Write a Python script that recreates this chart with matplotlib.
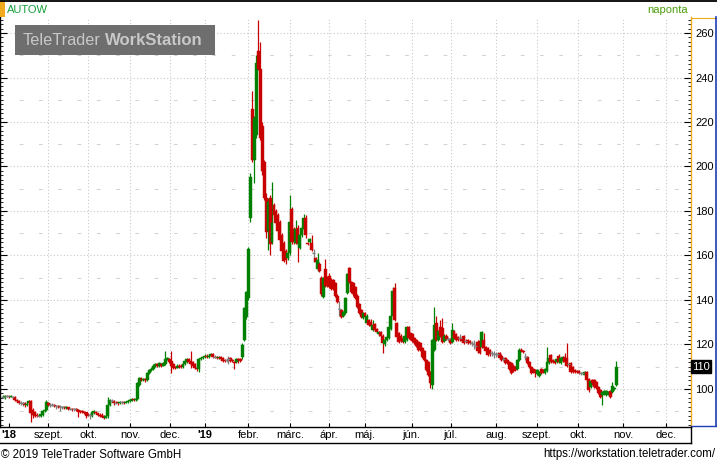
import numpy as np
import matplotlib
matplotlib.use('Agg')
import matplotlib.pyplot as plt
from matplotlib.lines import Line2D
from matplotlib.patches import Rectangle
from matplotlib.ticker import MultipleLocator

plt.rcParams['font.family'] = ['Liberation Sans', 'DejaVu Sans']

# daily OHLC, AUTOW, one line = 10 trading days
opens = [
    96.5, 96.0, 96.8, 96.8, 96.5, 96.6, 96.5, 95.2, 94.8, 93.8,
    93.5, 93.5, 93.0, 93.5, 94.5, 90.5, 89.5, 88.5, 88.0, 88.0,
    88.5, 90.0, 90.5, 93.5, 93.0, 93.0, 93.0, 92.5, 92.5, 92.0,
    92.0, 92.0, 91.5, 91.8, 91.0, 91.2, 91.0, 91.0, 90.5, 90.0,
    90.0, 89.5, 89.5, 88.5, 88.5, 88.0, 89.0, 89.5, 89.0, 88.5,
    88.5, 88.0, 87.0, 88.0, 93.0, 94.5, 94.5, 93.8, 94.0, 93.5,
    94.0, 94.0, 93.8, 94.0, 94.5, 94.8, 95.3, 95.0, 95.5, 102.0,
    104.5, 104.0, 104.5, 104.0, 107.0, 108.5, 109.0, 110.5, 111.0, 110.5,
    111.0, 110.5, 111.0, 113.5, 113.5, 112.5, 111.0, 110.0, 109.5, 110.5,
    110.5, 110.0, 111.0, 112.0, 113.5, 112.5, 112.0, 111.0, 109.5, 109.0,
    113.5, 114.0, 114.5, 115.0, 114.5, 115.0, 115.5, 114.5, 114.5, 114.0,
    114.5, 114.0, 113.0, 113.0, 113.5, 114.0, 113.0, 112.0, 112.0, 113.5,
    113.5, 114.4, 122.0, 132.4, 141.0, 177.0, 226.0, 203.0, 214.0, 252.0,
    244.0, 218.0, 202.0, 186.0, 171.0, 186.0, 166.0, 182.5, 180.0, 178.0,
    175.0, 169.0, 165.5, 162.0, 159.0, 161.0, 181.0, 172.0, 165.5, 172.5,
    163.5, 169.0, 172.0, 177.0, 165.5, 166.0, 165.5, 161.0, 159.0, 154.0,
    156.0, 150.0, 141.5, 154.0, 150.0, 151.0, 149.0, 149.0, 147.5, 142.0,
    136.0, 135.5, 133.0, 134.0, 143.0, 154.5, 148.0, 147.5, 146.0, 142.0,
    138.0, 135.5, 132.0, 134.0, 129.7, 131.0, 130.0, 126.5, 129.0, 127.0,
    124.5, 125.5, 124.0, 120.0, 122.0, 123.0, 127.0, 133.0, 145.4, 129.7,
    125.0, 124.0, 123.0, 121.0, 122.0, 128.0, 125.0, 124.5, 123.0, 122.0,
    121.0, 120.7, 118.5, 117.0, 113.0, 112.0, 107.6, 102.0, 117.5, 129.7,
    122.0, 128.0, 127.4, 121.5, 124.0, 122.5, 122.5, 121.0, 126.0, 124.5,
    123.5, 123.0, 123.0, 123.8, 121.5, 122.0, 121.5, 120.5, 120.0, 119.5,
    121.0, 121.5, 119.0, 122.0, 119.0, 118.4, 117.5, 116.0, 115.5, 115.5,
    115.5, 116.0, 115.0, 113.5, 114.0, 113.0, 112.0, 111.7, 110.5, 110.0,
    109.0, 113.0, 117.5, 117.0, 114.5, 114.4, 112.0, 110.0, 109.0, 108.5,
    106.7, 106.0, 109.0, 108.5, 107.0, 108.0, 111.7, 115.3, 113.0, 112.5,
    112.0, 115.0, 111.7, 112.5, 114.4, 114.0, 111.0, 111.7, 110.0, 108.5,
    108.0, 108.0, 107.0, 107.2, 106.3, 107.5, 104.5, 101.0, 104.0, 104.0,
    103.0, 101.0, 99.5, 97.5, 98.0, 97.5, 98.0, 99.0, 98.5, 100.0, 101.8,
]
highs = [
    97.2, 97.5, 97.2, 97.0, 97.2, 97.0, 96.8, 95.6, 95.0, 94.5,
    94.2, 94.0, 94.0, 95.0, 95.0, 91.5, 90.0, 89.0, 88.8, 89.2,
    90.5, 91.0, 95.0, 94.0, 93.8, 93.6, 93.4, 93.0, 93.0, 92.6,
    92.5, 92.4, 92.2, 92.0, 91.6, 91.5, 91.4, 91.3, 90.8, 90.4,
    90.5, 90.0, 89.8, 89.0, 89.0, 89.8, 90.5, 90.0, 89.4, 89.0,
    89.0, 88.4, 88.5, 96.5, 95.5, 95.5, 95.0, 94.4, 94.3, 94.6,
    94.5, 94.4, 94.5, 94.8, 95.4, 96.0, 95.8, 96.0, 103.0, 105.5,
    105.5, 105.0, 105.0, 107.5, 109.0, 110.0, 111.0, 111.8, 111.5, 112.0,
    111.6, 112.0, 117.0, 114.5, 114.0, 117.0, 111.5, 110.5, 111.0, 111.0,
    111.2, 111.5, 113.0, 114.0, 114.0, 117.0, 112.5, 111.5, 110.0, 114.0,
    114.5, 115.0, 115.8, 115.5, 115.5, 116.0, 116.0, 115.2, 115.0, 115.0,
    115.0, 114.4, 113.6, 113.8, 115.0, 114.5, 113.5, 112.5, 114.0, 114.0,
    114.0, 120.5, 137.0, 144.0, 164.0, 197.0, 234.0, 222.5, 250.0, 266.0,
    256.0, 220.0, 203.0, 188.0, 186.0, 187.0, 193.0, 183.5, 181.0, 179.0,
    176.0, 170.0, 166.5, 163.0, 162.0, 187.0, 182.0, 173.0, 176.0, 173.5,
    170.0, 173.5, 178.5, 178.0, 166.2, 168.0, 169.0, 163.0, 159.5, 161.0,
    157.0, 151.0, 150.5, 158.5, 151.0, 152.0, 150.0, 149.5, 148.0, 142.5,
    139.5, 136.0, 135.0, 141.5, 152.0, 155.0, 148.5, 148.0, 146.5, 142.5,
    138.5, 136.0, 134.5, 134.5, 133.5, 131.5, 131.5, 131.0, 129.5, 127.5,
    126.0, 126.0, 124.5, 122.5, 124.0, 128.5, 133.5, 146.0, 147.6, 130.2,
    125.5, 124.5, 123.5, 124.5, 128.5, 128.5, 125.5, 125.0, 123.5, 122.5,
    121.5, 121.2, 119.0, 117.5, 113.5, 112.5, 108.0, 122.5, 137.0, 133.0,
    126.5, 131.0, 132.0, 124.5, 124.5, 123.5, 123.0, 129.7, 126.5, 125.0,
    124.0, 124.5, 123.5, 124.3, 122.5, 122.5, 122.0, 121.5, 122.0, 120.5,
    122.0, 122.0, 126.0, 125.0, 119.5, 118.9, 118.0, 117.0, 117.0, 116.5,
    116.5, 116.5, 115.5, 114.5, 114.5, 113.5, 112.5, 112.2, 111.0, 110.5,
    113.5, 118.4, 118.2, 117.5, 116.0, 114.9, 112.5, 110.5, 109.5, 109.0,
    109.0, 108.0, 109.5, 109.0, 109.5, 119.0, 114.5, 115.8, 113.5, 113.0,
    114.0, 115.5, 114.5, 115.0, 116.0, 120.7, 111.8, 112.2, 110.5, 109.0,
    108.5, 108.5, 107.8, 107.8, 108.0, 108.0, 105.0, 104.0, 104.5, 104.5,
    103.5, 101.5, 100.0, 99.0, 99.5, 99.5, 99.0, 99.5, 103.0, 101.0, 112.6,
]
lows = [
    96.0, 95.5, 96.2, 96.0, 96.2, 96.0, 94.8, 94.2, 93.2, 93.0,
    92.5, 92.0, 92.5, 93.2, 85.0, 87.0, 87.5, 87.2, 87.5, 87.6,
    88.0, 89.5, 90.0, 92.5, 92.0, 92.4, 92.0, 91.0, 91.6, 90.0,
    91.2, 91.0, 91.0, 90.6, 90.4, 90.2, 90.2, 90.0, 87.5, 89.0,
    89.0, 88.6, 87.0, 87.8, 86.5, 87.6, 88.8, 88.6, 88.0, 87.6,
    87.2, 86.5, 86.8, 87.0, 92.5, 94.0, 93.0, 93.2, 93.0, 93.2,
    93.4, 93.2, 93.5, 93.6, 94.2, 94.5, 94.6, 94.8, 95.2, 101.5,
    103.5, 103.6, 103.2, 103.8, 106.5, 108.0, 108.6, 110.0, 109.8, 110.0,
    110.0, 110.2, 110.8, 113.0, 111.5, 107.0, 109.0, 109.0, 109.2, 109.5,
    109.5, 109.6, 110.6, 111.8, 111.5, 109.5, 110.0, 109.0, 108.0, 107.5,
    113.0, 113.6, 114.0, 114.0, 114.0, 114.6, 114.0, 113.8, 113.5, 113.6,
    113.0, 112.0, 112.0, 112.2, 111.0, 112.0, 112.0, 109.0, 111.6, 111.5,
    112.0, 113.5, 121.5, 131.5, 140.0, 175.0, 202.0, 192.5, 213.0, 243.5,
    212.0, 196.0, 185.0, 168.0, 162.5, 160.0, 165.0, 177.0, 173.5, 170.0,
    166.0, 161.0, 157.0, 156.0, 158.0, 160.0, 165.0, 165.0, 165.0, 157.0,
    163.0, 168.5, 171.5, 168.0, 164.8, 165.5, 162.0, 157.0, 156.5, 153.0,
    152.5, 142.0, 141.0, 146.0, 146.0, 145.5, 144.5, 144.5, 141.5, 138.5,
    133.0, 132.0, 132.5, 133.5, 142.5, 147.5, 143.0, 142.0, 140.5, 136.5,
    133.5, 132.0, 131.5, 132.0, 129.2, 128.3, 128.0, 126.0, 126.0, 125.0,
    124.0, 123.5, 116.0, 119.5, 121.5, 122.5, 126.5, 132.5, 130.5, 123.0,
    120.5, 121.0, 120.5, 120.5, 121.5, 122.5, 122.0, 121.0, 120.0, 119.0,
    117.0, 117.0, 114.0, 112.5, 108.0, 105.8, 100.5, 100.0, 117.0, 121.5,
    121.5, 123.5, 120.5, 121.0, 122.0, 121.5, 120.2, 120.5, 122.5, 121.5,
    121.5, 121.5, 121.0, 120.2, 120.5, 120.2, 120.0, 119.5, 118.0, 118.5,
    116.0, 115.5, 118.5, 118.0, 116.5, 115.0, 115.0, 115.0, 114.0, 114.5,
    114.5, 113.5, 112.5, 112.5, 111.2, 111.2, 108.5, 106.8, 107.5, 108.0,
    108.5, 112.5, 116.5, 116.0, 113.0, 111.2, 109.5, 106.5, 107.0, 105.5,
    106.2, 105.5, 106.8, 107.0, 106.5, 107.5, 111.2, 111.5, 111.5, 111.3,
    111.5, 111.5, 111.2, 112.0, 111.5, 110.0, 110.2, 107.1, 107.3, 107.0,
    107.3, 106.8, 106.3, 106.6, 105.8, 103.5, 98.5, 100.5, 102.0, 100.5,
    100.0, 97.7, 96.0, 92.8, 97.5, 97.0, 97.5, 96.0, 98.0, 99.5, 101.5,
]
closes = [
    96.5, 97.0, 96.8, 96.5, 96.9, 96.6, 95.0, 94.5, 93.5, 93.8,
    93.5, 93.0, 93.4, 94.5, 89.0, 88.5, 88.0, 87.8, 88.0, 88.8,
    90.0, 90.5, 94.0, 93.0, 93.0, 93.0, 92.5, 92.5, 92.0, 92.0,
    92.0, 91.5, 91.8, 91.0, 91.0, 90.8, 91.0, 90.5, 89.5, 89.5,
    89.5, 89.0, 88.0, 88.3, 88.5, 89.5, 90.0, 89.0, 88.5, 88.0,
    87.5, 87.0, 88.0, 93.0, 95.0, 94.5, 93.5, 93.8, 93.5, 94.2,
    94.0, 93.8, 94.0, 94.5, 95.0, 95.5, 95.0, 95.5, 102.5, 105.0,
    104.0, 104.5, 104.0, 107.0, 108.5, 109.0, 110.5, 111.0, 110.5, 111.5,
    110.5, 111.5, 113.5, 114.0, 112.0, 110.5, 109.5, 109.5, 110.5, 110.0,
    110.0, 111.0, 112.5, 113.5, 112.0, 111.0, 110.5, 109.5, 109.0, 113.5,
    114.0, 114.5, 115.0, 114.5, 115.0, 115.5, 114.5, 114.5, 114.0, 114.5,
    113.5, 112.5, 112.5, 113.0, 113.5, 112.5, 112.5, 111.5, 113.5, 113.0,
    112.5, 119.8, 136.4, 143.6, 163.0, 195.3, 203.0, 222.0, 246.5, 244.0,
    213.0, 198.0, 186.0, 170.5, 184.0, 165.0, 174.5, 178.0, 174.5, 171.0,
    167.0, 162.0, 157.5, 158.0, 161.0, 175.0, 166.0, 166.0, 172.0, 165.0,
    169.0, 172.5, 177.0, 169.0, 165.0, 167.5, 162.5, 161.0, 157.0, 158.0,
    153.0, 142.5, 150.0, 146.5, 146.5, 146.0, 145.0, 145.0, 142.0, 139.0,
    136.0, 132.5, 134.5, 141.0, 151.5, 148.0, 143.5, 142.5, 141.0, 137.0,
    134.0, 132.5, 134.0, 132.5, 133.0, 128.8, 128.5, 128.8, 126.5, 125.5,
    125.5, 124.0, 120.7, 122.0, 123.5, 128.0, 133.0, 144.0, 131.0, 123.4,
    121.0, 121.5, 121.0, 124.0, 128.0, 123.0, 122.5, 121.5, 120.5, 119.5,
    117.5, 117.5, 114.5, 113.0, 108.5, 106.3, 102.7, 122.0, 128.8, 122.0,
    126.0, 124.0, 121.0, 124.0, 122.5, 122.5, 120.7, 126.5, 123.0, 122.0,
    122.0, 123.0, 121.5, 120.7, 121.5, 120.7, 120.5, 120.5, 120.0, 119.5,
    117.0, 116.0, 125.6, 118.4, 117.0, 115.3, 115.5, 116.0, 115.5, 115.5,
    115.5, 114.0, 113.0, 113.5, 111.7, 111.7, 109.0, 107.2, 108.0, 108.5,
    113.0, 117.5, 117.0, 116.5, 114.5, 111.7, 110.0, 107.0, 107.5, 107.0,
    108.5, 107.6, 107.3, 107.5, 109.0, 112.0, 114.0, 112.0, 112.0, 111.8,
    113.5, 112.0, 114.0, 114.4, 112.0, 110.5, 111.0, 107.6, 107.8, 107.5,
    107.8, 107.3, 107.0, 107.2, 107.6, 104.0, 99.5, 103.5, 102.5, 101.0,
    100.5, 98.2, 96.4, 98.5, 99.0, 99.0, 98.5, 96.4, 101.5, 100.5, 110.0,
]

# x axis labels and the trading day each month starts on
month_labels = ["'18", 'szept.', 'okt.', 'nov.', 'dec.', "'19", 'febr.', 'márc.',
                'ápr.', 'máj.', 'jún.', 'júl.', 'aug.', 'szept.', 'okt.', 'nov.', 'dec.']
month_days = [3.0, 22.9, 43.1, 64.2, 84.4, 102.1, 124.0, 145.1,
              164.8, 183.0, 206.6, 226.3, 249.2, 269.8, 290.9, 313.6, 335.2]
last_price = 110

GREEN = '#008000'
RED = '#c80000'
GRAY = '#808080'
ORANGE = '#f0aa1e'
BLUE = '#1e3cb4'

W, H = 717, 463
fig = plt.figure(figsize=(W / 100, H / 100), dpi=100)


def fx(px):
    return px / W


def fy(py):
    return 1 - py / H


ax = fig.add_axes([0, fy(427), fx(691), fy(17) - fy(427)])
ax.set_xlim(-1.5, 347.8)
ax.set_ylim(82.9, 267.2)

# grid: dotted every 20, sparse dashes in between
for v in range(100, 261, 20):
    ax.axhline(v, color='#c4c4c4', lw=0.75, ls=(0, (1, 2.2)), zorder=0)
for v in range(90, 251, 20):
    ax.axhline(v, color='#d2d2d2', lw=0.75, ls=(0, (3.5, 15)), zorder=0)
for d in month_days[1:]:
    ax.axvline(d, color='#c4c4c4', lw=0.75, ls=(0, (1, 2.2)), zorder=0)

# candles
o = np.array(opens)
h = np.array(highs)
l = np.array(lows)
c = np.array(closes)
x = np.arange(len(c))
cols = np.where(c > o, GREEN, np.where(c < o, RED, GRAY))
ax.vlines(x, l, h, colors=cols, lw=0.9, zorder=2)
ax.bar(x, c - o, bottom=o, width=1.5, color=cols, edgecolor=cols, linewidth=0.3, zorder=3)
doji = c == o
ax.hlines(o[doji], x[doji] - 0.8, x[doji] + 0.8, colors=GRAY, lw=0.9, zorder=3)

# spines and ticks
ax.spines['top'].set_visible(False)
ax.spines['right'].set_color(ORANGE)
ax.spines['left'].set_color('black')
ax.spines['bottom'].set_color('black')
for s in ['left', 'bottom', 'right']:
    ax.spines[s].set_linewidth(1.0)

ax.yaxis.set_major_locator(MultipleLocator(20))
ax.yaxis.set_minor_locator(MultipleLocator(2))
ax.tick_params(axis='y', which='both', direction='in', left=True, right=True,
               labelleft=False, labelright=True, labelsize=8, colors='black')
ax.tick_params(axis='y', which='major', length=5, width=0.8, pad=3)
ax.tick_params(axis='y', which='minor', length=2.5, width=0.6)

ax.set_xticks(month_days)
ax.set_xticklabels(month_labels)
ax.tick_params(axis='x', direction='in', length=3, width=0.8, labelsize=8, pad=1.8)
for t in ax.get_xticklabels():
    if t.get_text().startswith("'"):
        t.set_fontweight('bold')

# last price marker
ax.text(1.002, last_price, str(last_price), transform=ax.get_yaxis_transform(),
        ha='left', va='center', color='white', fontsize=8, clip_on=False, zorder=6,
        bbox=dict(boxstyle='square,pad=0.12', fc='black', ec='black'))

# frame lines around panels
tf = fig.transFigure
fig.add_artist(Line2D([0, 1], [fy(0.7), fy(0.7)], transform=tf, color='black', lw=1.3))
fig.add_artist(Rectangle((0, fy(17)), fx(5), fy(1) - fy(17), transform=tf, fc=ORANGE, ec='none'))
fig.add_artist(Line2D([fx(691), fx(715.5)], [fy(17.5), fy(17.5)], transform=tf, color=ORANGE, lw=0.8))
fig.add_artist(Line2D([fx(715.5), fx(715.5)], [fy(17), fy(425.5)], transform=tf, color=BLUE, lw=1.2))
fig.add_artist(Line2D([fx(691), fx(716)], [fy(425.5), fy(425.5)], transform=tf, color=BLUE, lw=1.0))
fig.add_artist(Line2D([0, fx(690.5)], [fy(442.5), fy(442.5)], transform=tf, color='black', lw=1.0))
fig.add_artist(Line2D([fx(690.5), fx(690.5)], [fy(427), fy(442.5)], transform=tf, color='black', lw=1.0))

# header
fig.text(fx(7), fy(13), 'AUTOW', color='#15a03c', fontsize=8, ha='left', va='baseline')
fig.text(fx(688), fy(13), 'naponta', color='#4c9e0c', fontsize=8, ha='right', va='baseline')

# watermark
fig.add_artist(Rectangle((fx(15), fy(55)), fx(200), fy(25) - fy(55), transform=tf,
                         fc='#6e6e6e', ec='none', zorder=5))
fig.text(fx(23), fy(45), 'TeleTrader', color='#c8c8c8', fontsize=11.7, ha='left',
         va='baseline', zorder=6)
fig.text(fx(105), fy(45), 'WorkStation', color='#c8c8c8', fontsize=12, fontweight='bold',
         ha='left', va='baseline', zorder=6)

# footer
fig.text(fx(1), fy(457.5), '© 2019 TeleTrader Software GmbH', fontsize=8.3,
         ha='left', va='baseline')
fig.text(fx(715), fy(457.5), 'https://workstation.teletrader.com/', fontsize=8.3,
         ha='right', va='baseline')

fig.savefig('out.png', dpi=100)
